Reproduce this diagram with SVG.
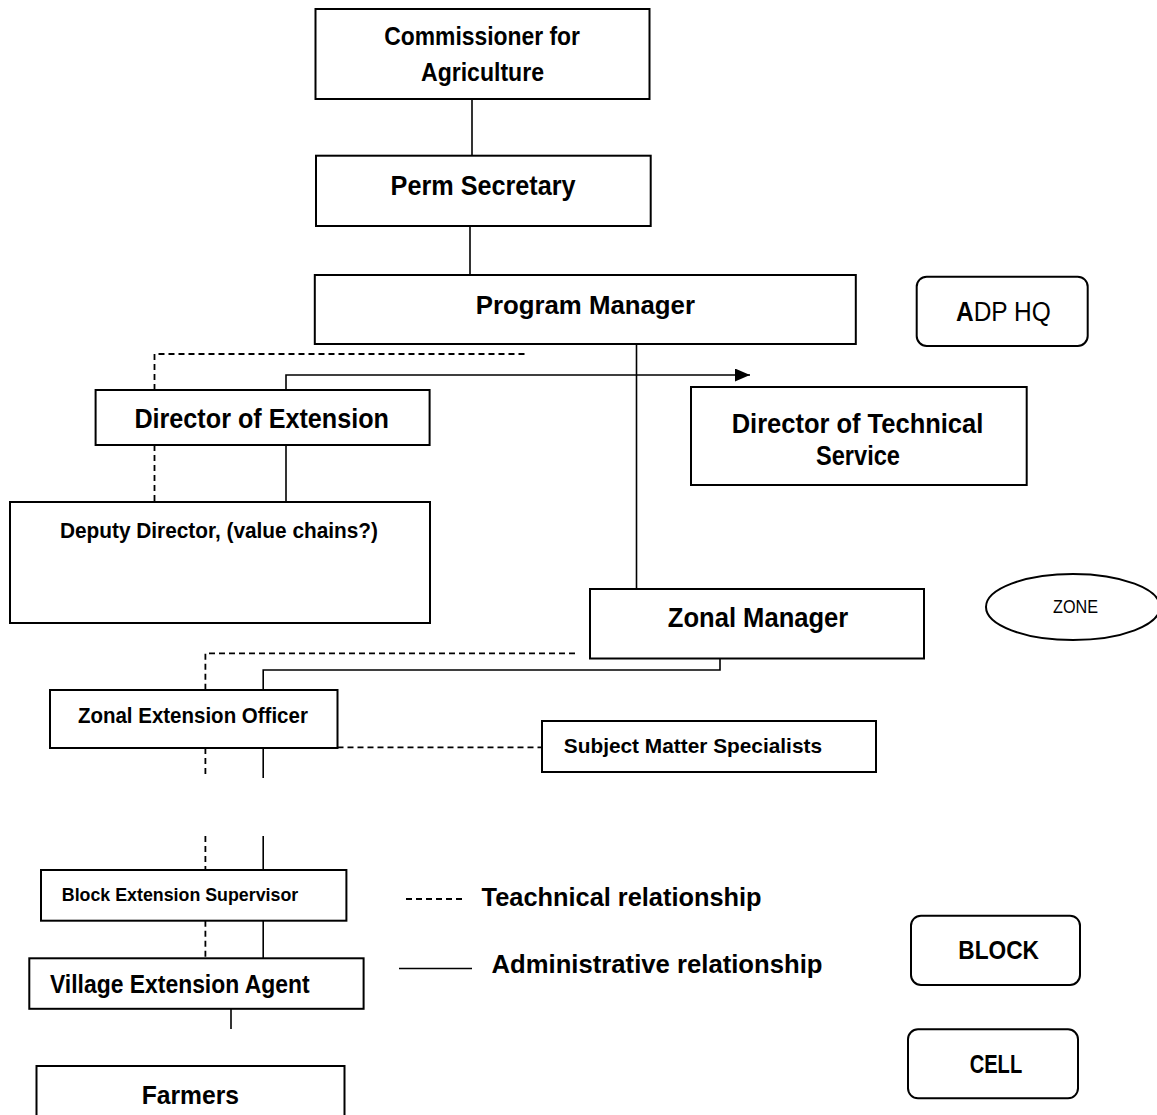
<svg xmlns="http://www.w3.org/2000/svg" width="1157" height="1115" viewBox="0 0 1157 1115">
<style>
  .box { fill: #ffffff; stroke: #000000; stroke-width: 2; }
  .conn { fill: none; stroke: #000000; stroke-width: 1.6; }
  .dash { fill: none; stroke: #000000; stroke-width: 1.8; stroke-dasharray: 6 4; }
  .t { font-family: "Liberation Sans", Arial, sans-serif; font-weight: bold; fill: #000000; }
  .r { font-family: "Liberation Sans", Arial, sans-serif; font-weight: normal; fill: #000000; }
</style>
<defs>
  <marker id="arrow" markerUnits="userSpaceOnUse" markerWidth="16" markerHeight="14" refX="15" refY="6.5" orient="auto">
    <path d="M0,0 L15,6.5 L0,13 z" fill="#000000"/>
  </marker>
</defs>

<g id="connectors">
  <line class="conn" x1="472" y1="99" x2="472" y2="155.7"/>
  <line class="conn" x1="470" y1="220" x2="470" y2="275"/>
  <line class="conn" x1="636.5" y1="344" x2="636.5" y2="589"/>
  <path class="conn" d="M286,390 V375 H750" marker-end="url(#arrow)"/>
  <line class="conn" x1="286" y1="445" x2="286" y2="502"/>
  <path class="conn" d="M720,658 V670 H263.2 V690"/>
  <line class="conn" x1="263.2" y1="748" x2="263.2" y2="778"/>
  <line class="conn" x1="263.2" y1="836" x2="263.2" y2="870"/>
  <line class="conn" x1="263.2" y1="920.7" x2="263.2" y2="958.3"/>
  <line class="conn" x1="231" y1="1009" x2="231" y2="1029"/>
  <path class="dash" d="M524.5,354 H154.5 V390"/>
  <line class="dash" x1="154.5" y1="445" x2="154.5" y2="502"/>
  <path class="dash" d="M575,653.3 H205.4 V690"/>
  <line class="dash" x1="337.5" y1="747.3" x2="542" y2="747.3"/>
  <line class="dash" x1="205.4" y1="748" x2="205.4" y2="778"/>
  <line class="dash" x1="205.4" y1="836" x2="205.4" y2="870"/>
  <line class="dash" x1="205.4" y1="920.7" x2="205.4" y2="958.3"/>
</g>

<g id="commissioner">
  <rect class="box" x="315.5" y="9" width="334" height="90"/>
  <text class="t" x="384.3" y="45" font-size="25" textLength="195.7" lengthAdjust="spacingAndGlyphs">Commissioner for</text>
  <text class="t" x="421" y="81" font-size="25" textLength="123" lengthAdjust="spacingAndGlyphs">Agriculture</text>
</g>

<g id="perm-secretary">
  <rect class="box" x="316" y="155.7" width="334.7" height="70.3"/>
  <text class="t" x="390.6" y="195" font-size="27" textLength="185" lengthAdjust="spacingAndGlyphs">Perm Secretary</text>
</g>

<g id="program-manager">
  <rect class="box" x="314.8" y="275" width="541" height="69"/>
  <text class="t" x="475.7" y="314" font-size="26" textLength="219.3" lengthAdjust="spacingAndGlyphs">Program Manager</text>
</g>

<g id="adp-hq">
  <rect class="box" x="916.7" y="276.7" width="171" height="69.3" rx="10" ry="10"/>
  <text class="r" x="956" y="321" font-size="27" textLength="94.7" lengthAdjust="spacingAndGlyphs"><tspan font-weight="bold">A</tspan>DP HQ</text>
</g>

<g id="director-extension">
  <rect class="box" x="95.6" y="390" width="334" height="55"/>
  <text class="t" x="134.4" y="428.3" font-size="27" textLength="254.6" lengthAdjust="spacingAndGlyphs">Director of Extension</text>
</g>

<g id="director-technical">
  <rect class="box" x="691" y="387" width="335.7" height="98"/>
  <text class="t" x="731.7" y="433" font-size="27" textLength="251.6" lengthAdjust="spacingAndGlyphs">Director of Technical</text>
  <text class="t" x="816" y="465" font-size="27" textLength="84" lengthAdjust="spacingAndGlyphs">Service</text>
</g>

<g id="deputy-director">
  <rect class="box" x="10" y="502" width="420" height="121"/>
  <text class="t" x="60" y="538" font-size="22" textLength="318" lengthAdjust="spacingAndGlyphs">Deputy Director, (value chains?)</text>
</g>

<g id="zonal-manager">
  <rect class="box" x="590" y="589" width="334" height="69.5"/>
  <text class="t" x="667.8" y="626.7" font-size="27" textLength="180.5" lengthAdjust="spacingAndGlyphs">Zonal Manager</text>
</g>

<g id="zone">
  <ellipse class="box" cx="1073" cy="607" rx="87" ry="33" stroke-width="1.6"/>
  <text class="r" x="1053" y="613.3" font-size="18" textLength="45" lengthAdjust="spacingAndGlyphs">ZONE</text>
</g>

<g id="zonal-extension-officer">
  <rect class="box" x="50" y="690" width="287.5" height="58"/>
  <text class="t" x="77.9" y="722.7" font-size="22" textLength="230" lengthAdjust="spacingAndGlyphs">Zonal Extension Officer</text>
</g>

<g id="subject-matter-specialists">
  <rect class="box" x="542" y="721" width="334" height="51"/>
  <text class="t" x="563.8" y="753.3" font-size="21" textLength="258.2" lengthAdjust="spacingAndGlyphs">Subject Matter Specialists</text>
</g>

<g id="block-extension-supervisor">
  <rect class="box" x="41" y="870" width="305.4" height="50.7"/>
  <text class="t" x="61.8" y="901" font-size="19" textLength="236.4" lengthAdjust="spacingAndGlyphs">Block Extension Supervisor</text>
</g>

<g id="village-extension-agent">
  <rect class="box" x="29.3" y="958.3" width="334.3" height="50.5"/>
  <text class="t" x="50" y="993.3" font-size="25" textLength="259.6" lengthAdjust="spacingAndGlyphs">Village Extension Agent</text>
</g>

<g id="farmers">
  <rect class="box" x="36.5" y="1066" width="308" height="60"/>
  <text class="t" x="141.7" y="1104" font-size="26" textLength="97.3" lengthAdjust="spacingAndGlyphs">Farmers</text>
</g>

<g id="legend">
  <line class="dash" x1="406" y1="899" x2="465" y2="899" stroke-dasharray="5 3.5" stroke-width="1.5"/>
  <text class="t" x="481.6" y="906" font-size="26" textLength="280" lengthAdjust="spacingAndGlyphs">Teachnical relationship</text>
  <line class="conn" x1="399" y1="968.5" x2="472" y2="968.5"/>
  <text class="t" x="491.5" y="973.3" font-size="26" textLength="331" lengthAdjust="spacingAndGlyphs">Administrative relationship</text>
</g>

<g id="block">
  <rect class="box" x="911" y="915.7" width="169" height="69.3" rx="10" ry="10"/>
  <text class="t" x="958.3" y="959.3" font-size="26" textLength="80.7" lengthAdjust="spacingAndGlyphs">BLOCK</text>
</g>

<g id="cell">
  <rect class="box" x="908" y="1029.3" width="170" height="69" rx="10" ry="10"/>
  <text class="t" x="969.7" y="1072.7" font-size="26" textLength="52.5" lengthAdjust="spacingAndGlyphs">CELL</text>
</g>
</svg>
